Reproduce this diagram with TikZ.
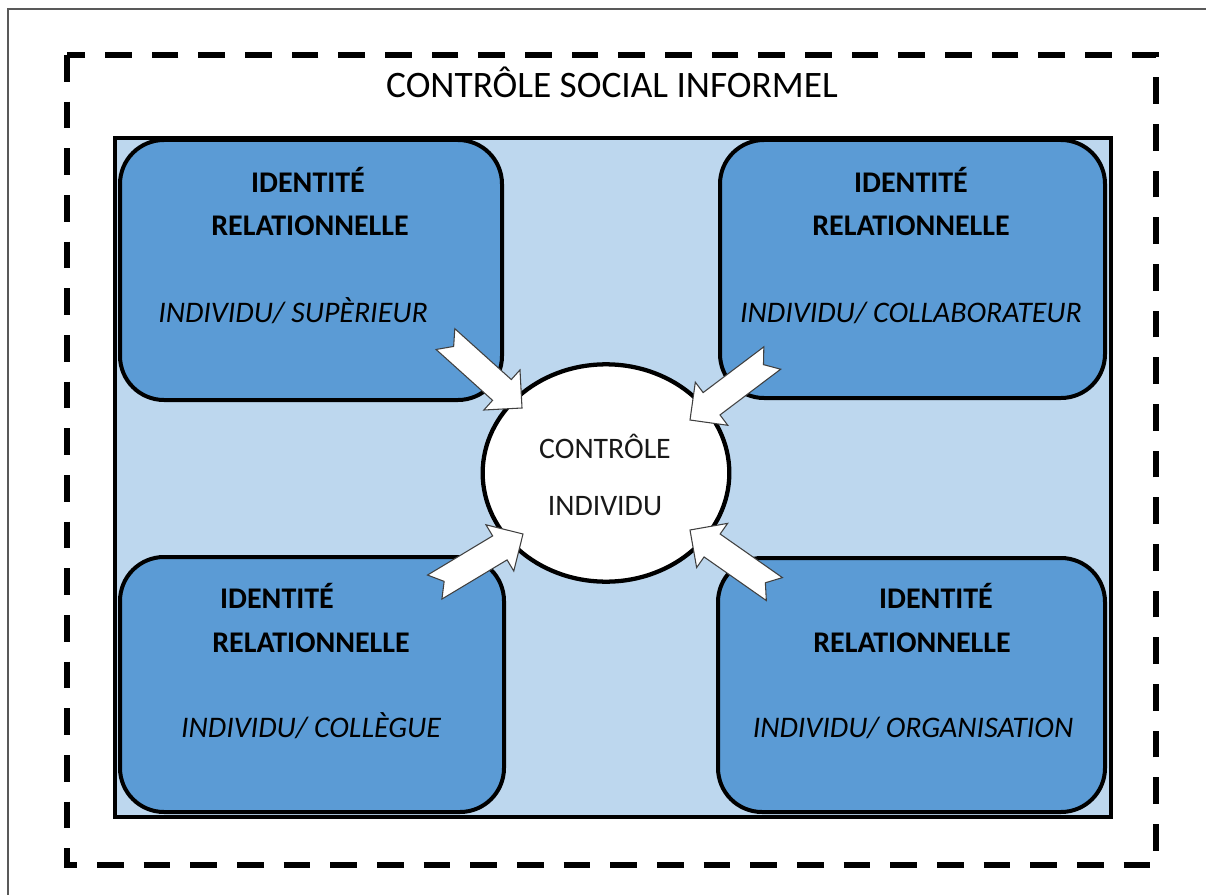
\documentclass[tikz,border=0pt]{standalone}
\usepackage{fontspec}
\setmainfont{Carlito}
\usetikzlibrary{shapes.geometric}
\definecolor{boxblue}{HTML}{5B9BD5}
\definecolor{paleblue}{HTML}{BDD7EE}
\tikzset{
  framebox/.style={draw=black, line width=3pt, fill=boxblue, rounded corners=33pt, inner sep=0pt},
  boldtxt/.style={anchor=base, font=\fontsize{22.5}{26}\selectfont\bfseries, inner sep=0pt},
  itxt/.style={anchor=base, font=\fontsize{22.4}{26}\selectfont\itshape, inner sep=0pt},
  ctxt/.style={anchor=base, font=\fontsize{22.3}{26}\selectfont, inner sep=0pt, text=black!90},
  arrowstyle/.style={draw=black!75, line width=0.8pt, fill=white, line join=miter},
  blockarrow/.pic={
    \draw[arrowstyle] (0,0) -- (-27,27) -- (-27,14) -- (-103,14) -- (-92,0)
      -- (-103,-14) -- (-27,-14) -- (-27,-27) -- cycle;
  }
}
\begin{document}
\begin{tikzpicture}[x=0.75pt,y=-0.75pt]
\useasboundingbox (0,0) rectangle (1206,895);
% page border
\draw[black!65, line width=1.1pt] (8,895) -- (8,9) -- (1206,9);
% dashed frame
\draw[line width=5pt, dash pattern=on 20pt off 15pt] (67,55) rectangle (1156,865);
\node[anchor=base, font=\fontsize{28}{32}\selectfont, inner sep=0pt] (title) at (612,98) {CONTRÔLE SOCIAL INFORMEL};
% inner panel
\node[draw=black, line width=3.5pt, fill=paleblue, minimum width=747pt, minimum height=509.25pt, inner sep=0pt] (panel) at (613,477.5) {};
% four boxes
\node[framebox, minimum width=286.5pt, minimum height=195pt] (tl) at (311,270) {};
\node[framebox, minimum width=288.75pt, minimum height=193.5pt] (tr) at (912.5,269) {};
\node[framebox, minimum width=288pt, minimum height=191.25pt] (bl) at (312,684.5) {};
\node[framebox, minimum width=290.25pt, minimum height=190.5pt] (br) at (911.5,685) {};
% texts
\node[boldtxt] (tl1) at (308,193) {IDENTITÉ};
\node[boldtxt] (tl2) at (310,235) {RELATIONNELLE};
\node[itxt] (tl3) at (293,322) {INDIVIDU/ SUPÈRIEUR};
\node[boldtxt] (tr1) at (911,193) {IDENTITÉ};
\node[boldtxt] (tr2) at (911,235) {RELATIONNELLE};
\node[itxt] (tr3) at (911,322) {INDIVIDU/ COLLABORATEUR};
\node[boldtxt] (bl1) at (277,608) {IDENTITÉ};
\node[boldtxt] (bl2) at (311,652) {RELATIONNELLE};
\node[itxt] (bl3) at (311,737) {INDIVIDU/ COLLÈGUE};
\node[boldtxt] (br1) at (936,608) {IDENTITÉ};
\node[boldtxt] (br2) at (912,652) {RELATIONNELLE};
\node[itxt] (br3) at (913,737) {INDIVIDU/ ORGANISATION};
% centre
\node[draw=black, line width=3.2pt, fill=white, ellipse, minimum width=185pt, minimum height=163pt, inner sep=0pt] (ci) at (606,473) {};
\node[ctxt] (c1) at (605,458) {CONTRÔLE};
\node[ctxt] (c2) at (605,515) {INDIVIDU};
% block arrows
\pic[rotate=-42] at (522,408) {blockarrow};
\pic[rotate=-143] at (690,420) {blockarrow};
\pic[rotate=31] at (523,534) {blockarrow};
\pic[rotate=145] at (690,530) {blockarrow};
\end{tikzpicture}
\end{document}
